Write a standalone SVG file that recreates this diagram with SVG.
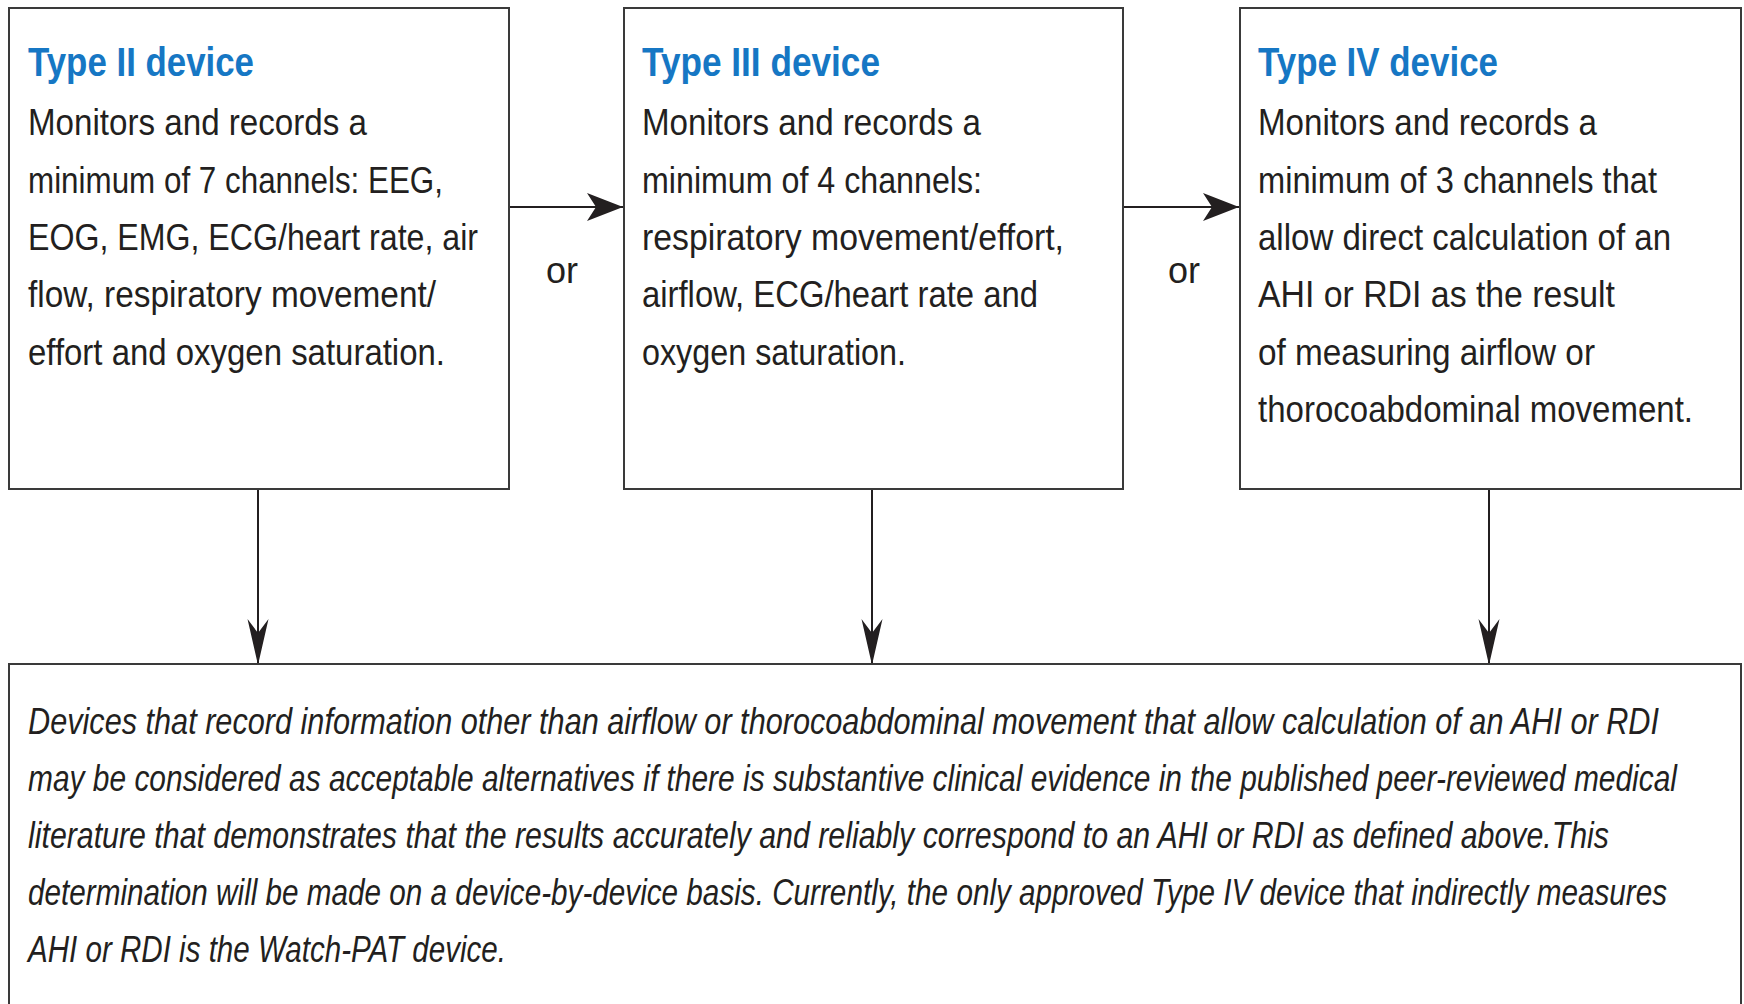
<svg xmlns="http://www.w3.org/2000/svg" width="1744" height="1004" viewBox="0 0 1744 1004">
<defs>
<style>
.box{fill:#fff;stroke:#3a3a3a;stroke-width:2}
.title{font-family:"Liberation Sans",Arial,sans-serif;font-weight:bold;font-size:40px;fill:#1677c4}
.body{font-family:"Liberation Sans",Arial,sans-serif;font-size:36px;fill:#231f20}
.ital{font-family:"Liberation Sans",Arial,sans-serif;font-style:italic;font-size:37px;fill:#231f20}
.or{font-family:"Liberation Sans",Arial,sans-serif;font-size:36px;fill:#231f20}
.conn{stroke:#231f20;stroke-width:2;fill:none}
</style>
<marker id="ah" markerUnits="userSpaceOnUse" markerWidth="50" markerHeight="40" viewBox="-40 -20 45 40" refX="0" refY="0" orient="auto">
<path d="M0,0 L-36,-14 L-27,0 L-36,14 Z" fill="#231f20"/>
</marker>
<marker id="av" markerUnits="userSpaceOnUse" markerWidth="60" markerHeight="30" viewBox="-50 -15 55 30" refX="0" refY="0" orient="auto">
<path d="M0,0 L-46,-10.5 L-32,0 L-46,10.5 Z" fill="#231f20"/>
</marker>
</defs>
<rect width="1744" height="1004" fill="#fff"/>
<g id="connectors">
<line class="conn" x1="510" y1="207" x2="623" y2="207" marker-end="url(#ah)"/>
<line class="conn" x1="1124" y1="207" x2="1239" y2="207" marker-end="url(#ah)"/>
<line class="conn" x1="258" y1="489" x2="258" y2="665" marker-end="url(#av)"/>
<line class="conn" x1="872" y1="489" x2="872" y2="665" marker-end="url(#av)"/>
<line class="conn" x1="1489" y1="489" x2="1489" y2="665" marker-end="url(#av)"/>
<text class="or" x="546" y="283">or</text>
<text class="or" x="1168" y="283">or</text>
</g>
<g id="type2">
<rect class="box" x="9" y="8" width="500" height="481"/>
<text class="title" x="28" y="76" textLength="226" lengthAdjust="spacingAndGlyphs">Type II device</text>
<text class="body" x="28" y="135" textLength="339" lengthAdjust="spacingAndGlyphs">Monitors and records a</text>
<text class="body" x="28" y="193" textLength="415" lengthAdjust="spacingAndGlyphs">minimum of 7 channels: EEG,</text>
<text class="body" x="28" y="250" textLength="450" lengthAdjust="spacingAndGlyphs">EOG, EMG, ECG/heart rate, air</text>
<text class="body" x="28" y="307" textLength="408" lengthAdjust="spacingAndGlyphs">flow, respiratory movement/</text>
<text class="body" x="28" y="365" textLength="417" lengthAdjust="spacingAndGlyphs">effort and oxygen saturation.</text>
</g>
<g id="type3">
<rect class="box" x="624" y="8" width="499" height="481"/>
<text class="title" x="642" y="76" textLength="238" lengthAdjust="spacingAndGlyphs">Type III device</text>
<text class="body" x="642" y="135" textLength="339" lengthAdjust="spacingAndGlyphs">Monitors and records a</text>
<text class="body" x="642" y="193" textLength="340" lengthAdjust="spacingAndGlyphs">minimum of 4 channels:</text>
<text class="body" x="642" y="250" textLength="422" lengthAdjust="spacingAndGlyphs">respiratory movement/effort,</text>
<text class="body" x="642" y="307" textLength="396" lengthAdjust="spacingAndGlyphs">airflow, ECG/heart rate and</text>
<text class="body" x="642" y="365" textLength="264" lengthAdjust="spacingAndGlyphs">oxygen saturation.</text>
</g>
<g id="type4">
<rect class="box" x="1240" y="8" width="501" height="481"/>
<text class="title" x="1258" y="76" textLength="240" lengthAdjust="spacingAndGlyphs">Type IV device</text>
<text class="body" x="1258" y="135" textLength="339" lengthAdjust="spacingAndGlyphs">Monitors and records a</text>
<text class="body" x="1258" y="193" textLength="399" lengthAdjust="spacingAndGlyphs">minimum of 3 channels that</text>
<text class="body" x="1258" y="250" textLength="413" lengthAdjust="spacingAndGlyphs">allow direct calculation of an</text>
<text class="body" x="1258" y="307" textLength="357" lengthAdjust="spacingAndGlyphs">AHI or RDI as the result</text>
<text class="body" x="1258" y="365" textLength="337" lengthAdjust="spacingAndGlyphs">of measuring airflow or</text>
<text class="body" x="1258" y="422" textLength="435" lengthAdjust="spacingAndGlyphs">thorocoabdominal movement.</text>
</g>
<g id="alternatives">
<path class="box" d="M9,1004 V664 H1741 V1004"/>
<g transform="scale(0.8,1)">
<text class="ital" x="35" y="734" textLength="2038.75" lengthAdjust="spacingAndGlyphs">Devices that record information other than airflow or thorocoabdominal movement that allow calculation of an AHI or RDI</text>
<text class="ital" x="35" y="791" textLength="2061.25" lengthAdjust="spacingAndGlyphs">may be considered as acceptable alternatives if there is substantive clinical evidence in the published peer-reviewed medical</text>
<text class="ital" x="35" y="848" textLength="1976.25" lengthAdjust="spacingAndGlyphs">literature that demonstrates that the results accurately and reliably correspond to an AHI or RDI as defined above.This</text>
<text class="ital" x="35" y="905" textLength="2048.75" lengthAdjust="spacingAndGlyphs">determination will be made on a device-by-device basis. Currently, the only approved Type IV device that indirectly measures</text>
<text class="ital" x="35" y="962" textLength="597.5" lengthAdjust="spacingAndGlyphs">AHI or RDI is the Watch-PAT device.</text>
</g>
</g>
</svg>
